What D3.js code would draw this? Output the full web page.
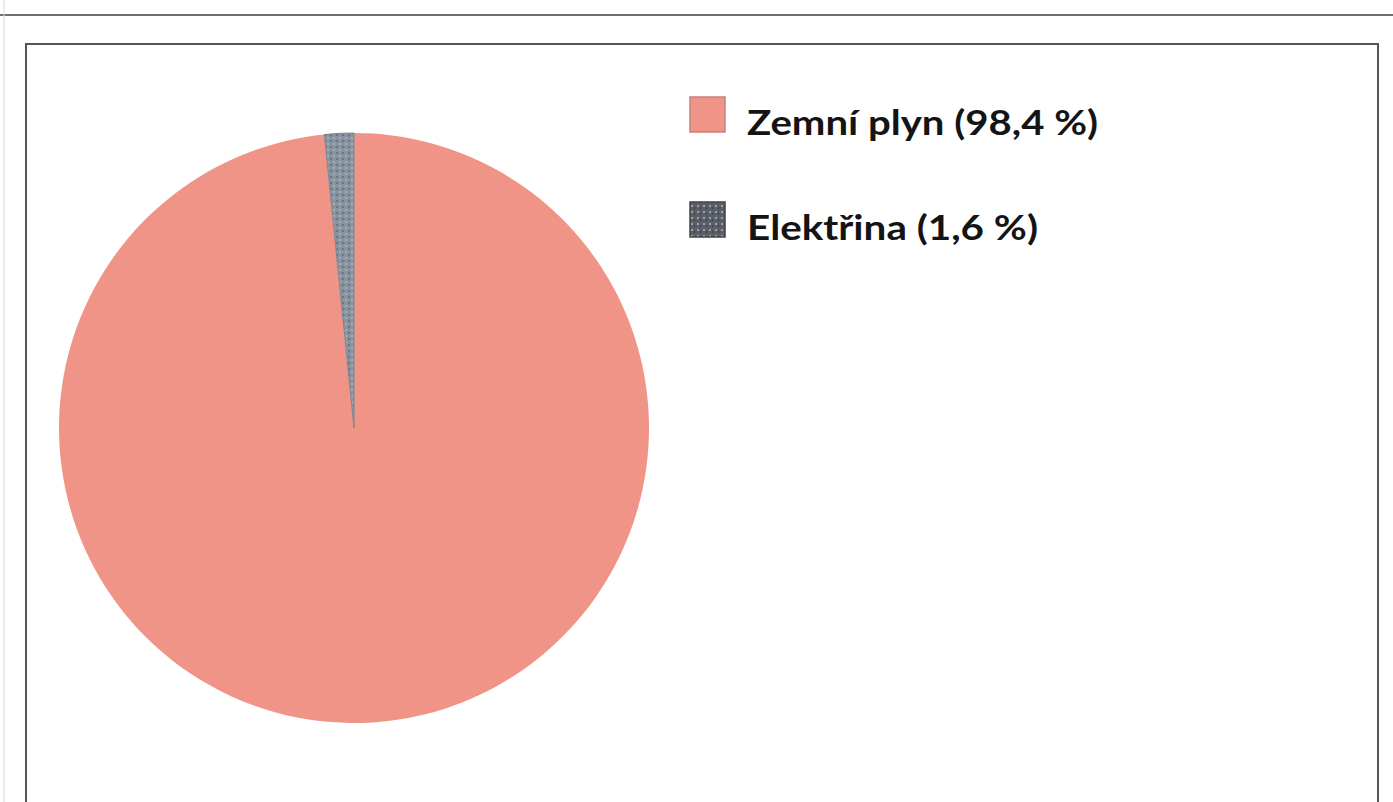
<!DOCTYPE html>
<html>
<head>
<meta charset="utf-8">
<script src="https://cdn.jsdelivr.net/npm/d3@7/dist/d3.min.js"></script>
<style>
  html, body { margin: 0; padding: 0; background: #fff; }
  svg { display: block; }
</style>
</head>
<body>
<svg id="chart" width="1393" height="802"></svg>
<script>
// Energy sources share
const categories = ["Zemní plyn", "Elektřina"];
const values = [98.4, 1.6];
const valueLabels = ["98,4 %", "1,6 %"];
const colors = ["#ef9486", "#8794a0"];

const svg = d3.select("#chart");
const W = 1393, H = 802;

// patterns: hatch texture on the small slice and its legend key
const defs = svg.append("defs");
const pat = defs.append("pattern")
  .attr("id", "elecFill").attr("patternUnits", "userSpaceOnUse")
  .attr("width", 6).attr("height", 6);
pat.append("rect").attr("width", 6).attr("height", 6).attr("fill", "#8794a0");
pat.append("rect").attr("x", 0).attr("y", 0).attr("width", 2).attr("height", 2).attr("fill", "#6a7684");
pat.append("rect").attr("x", 3).attr("y", 3).attr("width", 2).attr("height", 2).attr("fill", "#a4adb6");

const patKey = defs.append("pattern")
  .attr("id", "elecKey").attr("patternUnits", "userSpaceOnUse")
  .attr("width", 6).attr("height", 6);
patKey.append("rect").attr("width", 6).attr("height", 6).attr("fill", "#5a5e66");
patKey.append("rect").attr("x", 1).attr("y", 1).attr("width", 2).attr("height", 2).attr("fill", "#9a9ea6");
patKey.append("rect").attr("x", 4).attr("y", 3).attr("width", 1).attr("height", 2).attr("fill", "#3a3d44");

// page rule and chart frame
svg.append("line")
  .attr("x1", 0).attr("x2", W).attr("y1", 15).attr("y2", 15)
  .attr("stroke", "#6f6f6f").attr("stroke-width", 2);
svg.append("line")
  .attr("x1", 4).attr("x2", 4).attr("y1", 0).attr("y2", H)
  .attr("stroke", "#d8d8d8").attr("stroke-width", 1);
svg.append("rect")
  .attr("x", 26).attr("y", 44).attr("width", 1352).attr("height", 800)
  .attr("fill", "#fff").attr("stroke", "#555").attr("stroke-width", 2);

// pie
const cx = 354, cy = 428, R = 295;
const pie = d3.pie().sort(null).value(d => d.v);
const arc = d3.arc().innerRadius(0).outerRadius(R);
const data = categories.map((c, i) => ({ c, v: values[i], i }));

const g = svg.append("g").attr("transform", `translate(${cx},${cy})`);
g.selectAll("path")
  .data(pie(data))
  .join("path")
  .attr("d", arc)
  .attr("fill", d => d.data.i === 1 ? "url(#elecFill)" : colors[0])
  .attr("stroke", d => d.data.i === 1 ? "#7a8692" : "none")
  .attr("stroke-width", 1);

// legend
const legend = svg.append("g");
const keyX = 690, keySize = 35, textX = 747;
const rowY = [97, 202];
const textW = [351, 291];
categories.forEach((c, i) => {
  legend.append("rect")
    .attr("x", keyX).attr("y", rowY[i])
    .attr("width", keySize).attr("height", keySize)
    .attr("fill", i === 0 ? colors[0] : "url(#elecKey)")
    .attr("stroke", i === 0 ? "#c98078" : "#444")
    .attr("stroke-width", 1.5);
  legend.append("text")
    .attr("x", textX).attr("y", rowY[i] + 38)
    .attr("font-family", "Lato, 'Open Sans', sans-serif")
    .attr("font-weight", 700)
    .attr("font-size", 35)
    .attr("fill", "#141414")
    .attr("textLength", textW[i])
    .attr("lengthAdjust", "spacingAndGlyphs")
    .text(`${c} (${valueLabels[i]})`);
});
</script>
</body>
</html>
